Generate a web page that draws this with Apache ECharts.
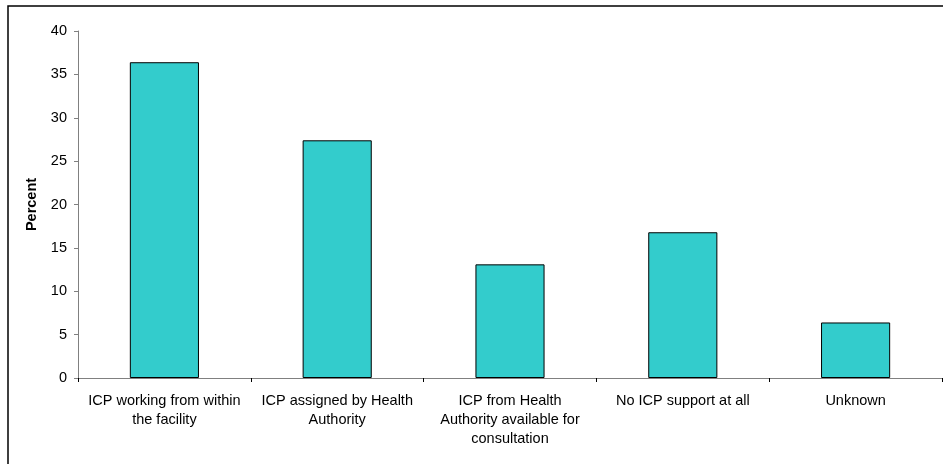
<!DOCTYPE html>
<html>
<head>
<meta charset="utf-8">
<script src="https://cdn.jsdelivr.net/npm/echarts@6/dist/echarts.min.js"></script>
<style>
  html, body { margin: 0; padding: 0; background: #ffffff; }
  #chart { width: 943px; height: 464px; }
</style>
</head>
<body>
<div id="chart"></div>
<script>
// ICP support categories (line breaks as printed under the axis)
const categories = [
  'ICP working from within\nthe facility',
  'ICP assigned by Health\nAuthority',
  'ICP from Health\nAuthority available for\nconsultation',
  'No ICP support at all',
  'Unknown'
];
// Share of facilities, in percent
const percentValues = [36.4, 27.4, 13.1, 16.8, 6.4];
// Value axis range and step
const yMin = 0;
const yMax = 40;
const yStep = 5;

const chart = echarts.init(document.getElementById('chart'), null, { renderer: 'canvas' });

const font = 'Liberation Sans, Arial, sans-serif';
const fontSize = 14.5;

chart.setOption({
  animation: false,
  backgroundColor: '#ffffff',
  graphic: [{
    type: 'rect',
    shape: { x: 8, y: 6, width: 1000, height: 1000 },
    style: { fill: 'none', stroke: '#000000', lineWidth: 1.5 },
    silent: true,
    z: 100
  }],
  grid: { left: 78, top: 31, right: 1, bottom: 86, containLabel: false },
  xAxis: {
    type: 'category',
    data: categories,
    axisLine: { lineStyle: { color: '#808080', width: 1 } },
    axisTick: { show: true, alignWithLabel: false, length: 4, lineStyle: { color: '#000000' } },
    axisLabel: {
      interval: 0,
      margin: 13,
      color: '#000000',
      fontFamily: font,
      fontSize: fontSize,
      lineHeight: 19,
      align: 'center'
    },
    splitLine: { show: false }
  },
  yAxis: {
    type: 'value',
    min: yMin,
    max: yMax,
    interval: yStep,
    name: 'Percent',
    nameLocation: 'middle',
    nameGap: 36,
    nameRotate: 90,
    nameTextStyle: { color: '#000000', fontFamily: font, fontSize: fontSize, fontWeight: 'bold' },
    axisLine: { show: true, lineStyle: { color: '#808080', width: 1 } },
    axisTick: { show: true, length: 4, lineStyle: { color: '#808080' } },
    axisLabel: { margin: 11, color: '#000000', fontFamily: font, fontSize: fontSize },
    splitLine: { show: false }
  },
  series: [{
    type: 'bar',
    data: percentValues,
    barWidth: '40%',
    itemStyle: { color: '#33CCCC', borderColor: '#000000', borderWidth: 1 }
  }]
});
</script>
</body>
</html>
